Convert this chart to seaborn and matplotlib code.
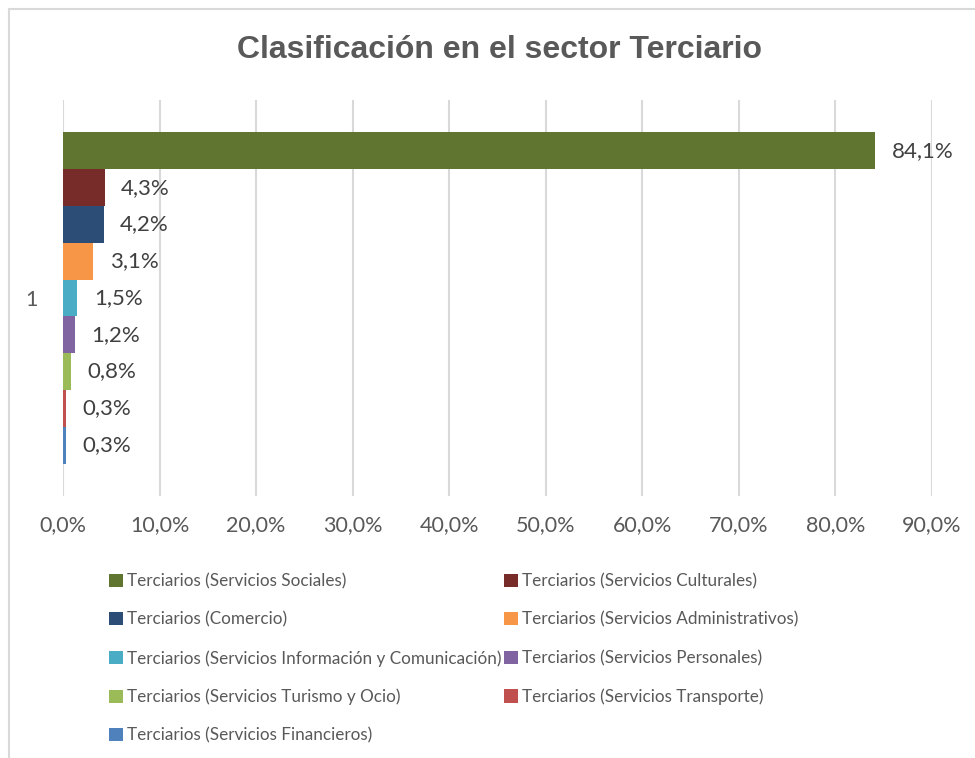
import numpy as np
import pandas as pd
import matplotlib
matplotlib.use("Agg")
import matplotlib.pyplot as plt
import seaborn as sns
from matplotlib.lines import Line2D
from matplotlib.ticker import FuncFormatter, MultipleLocator

# datos
series = [
    "Terciarios (Servicios Sociales)",
    "Terciarios (Servicios Culturales)",
    "Terciarios (Comercio)",
    "Terciarios (Servicios Administrativos)",
    "Terciarios (Servicios Información y Comunicación)",
    "Terciarios (Servicios Personales)",
    "Terciarios (Servicios Turismo y Ocio)",
    "Terciarios (Servicios Transporte)",
    "Terciarios (Servicios Financieros)",
]
valores = [84.1, 4.3, 4.2, 3.1, 1.5, 1.2, 0.8, 0.3, 0.3]
categoria = ["1"] * len(series)
colores = ["#5F7530", "#772C2A", "#2C4D75", "#F79646", "#4BACC6",
           "#8064A2", "#9BBB59", "#C0504D", "#4F81BD"]

df = pd.DataFrame({"cat": categoria, "serie": series, "valor": valores})

sns.set_style("white")
plt.rcParams["font.family"] = ["Lato", "DejaVu Sans"]
gris = "#595959"

fig = plt.figure(figsize=(9.75, 7.58), dpi=100)
ax = fig.add_axes([63 / 975, 1 - 496 / 758, (932 - 63) / 975, (496 - 100) / 758])

sns.barplot(data=df, x="valor", y="cat", hue="serie", hue_order=series,
            palette=colores, orient="h", width=0.836, dodge=True,
            saturation=1, linewidth=0, legend=True, ax=ax)

for cont in ax.containers:
    ax.bar_label(cont, labels=[f"{v:.1f}%".replace(".", ",") for v in cont.datavalues],
                 padding=12, fontsize=16, color="#404040")

ax.set_xlim(0, 90)
ax.set_ylim(0.5, -0.5)
ax.xaxis.set_major_locator(MultipleLocator(10))
ax.xaxis.set_major_formatter(FuncFormatter(lambda v, p: f"{v:.1f}%".replace(".", ",")))
ax.grid(axis="x", color="#D9D9D9", linewidth=1.5)
ax.set_axisbelow(True)
for s in ax.spines.values():
    s.set_visible(False)
ax.tick_params(axis="x", length=0, pad=14, labelsize=15.5, labelcolor=gris)
ax.tick_params(axis="y", length=0, pad=18, labelsize=15.5, labelcolor=gris)
ax.set_xlabel("")
ax.set_ylabel("")

# leyenda en dos columnas, orden por filas
handles, labels = ax.get_legend_handles_labels()
ax.legend_.remove()
orden = [0, 2, 4, 6, 8, 1, 3, 5, 7]
fig.legend([handles[i] for i in orden], [labels[i] for i in orden],
           ncol=2, loc="upper left", bbox_to_anchor=(94 / 975, 1 - 558 / 758),
           frameon=False, fontsize=12.3, labelcolor=gris,
           handlelength=0.8, handleheight=0.8, handletextpad=0.25,
           columnspacing=0.15, labelspacing=1.3)

fig.suptitle("Clasificación en el sector Terciario", x=500 / 975, y=1 - 50 / 758,
             va="center", fontsize=23, fontweight="bold", color=gris,
             family=["Liberation Sans", "DejaVu Sans"])

# borde del área del gráfico
fig.add_artist(Line2D([9 / 975, 1], [1 - 9 / 758, 1 - 9 / 758], color="#D9D9D9", lw=1.5))
fig.add_artist(Line2D([9 / 975, 9 / 975], [0, 1 - 9 / 758], color="#D9D9D9", lw=1.5))

fig.savefig("out.png", dpi=100)
